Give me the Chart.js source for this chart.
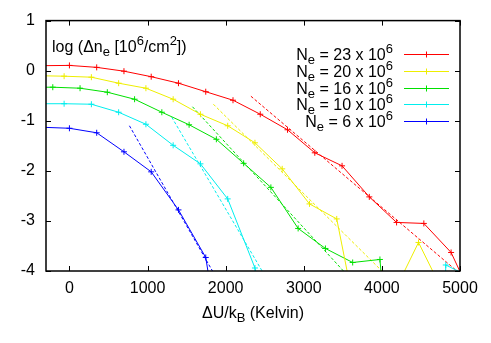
<!DOCTYPE html>
<html><head><meta charset="utf-8">
<script src="https://cdn.jsdelivr.net/npm/chart.js@4/dist/chart.umd.min.js"></script>
<style>html,body{margin:0;padding:0;background:#fff}#wrap{width:491px;height:343px}</style>
</head><body><div id="wrap"><canvas id="c" width="491" height="343"></canvas></div>
<script>
// tick labels
const xTicks = [0, 1000, 2000, 3000, 4000, 5000];
const yTicks = [-4, -3, -2, -1, 0, 1];
// legend values (N_e in units of 10^6)
const neValues = ['23', '20', '16', '10', '6'];
const seriesColors = ['#ff0000', '#eeee00', '#00e000', '#00eeee', '#0000ff'];

// series: N_e = 23
const xNe23 = [-349, 0, 349, 698, 1047, 1396, 1745, 2094, 2443, 2792, 3141, 3490, 3839, 4188, 4537, 4886, 5235];
const yNe23 = [0.10, 0.105, 0.066, -0.01, -0.12, -0.25, -0.42, -0.59, -0.87, -1.18, -1.64, -1.90, -2.52, -3.03, -3.05, -3.63, -4.8];
// N_e = 20
const xNe20 = [-417, -68, 281, 630, 979, 1328, 1677, 2026, 2375, 2724, 3073, 3422, 3771, 4120, 4469, 4818, 5167];
const yNe20 = [-0.10, -0.11, -0.13, -0.25, -0.35, -0.57, -0.87, -1.10, -1.44, -1.96, -2.66, -2.96, -5.7, -4.54, -3.43, -4.53, -5.0];
// N_e = 16
const xNe16 = [-562, -213, 136, 485, 834, 1183, 1532, 1881, 2230, 2579, 2928, 3277, 3626, 3975, 4324];
const yNe16 = [-0.33, -0.33, -0.35, -0.43, -0.57, -0.83, -1.08, -1.37, -1.85, -2.33, -3.15, -3.55, -3.83, -3.77, -10];
// N_e = 10
const xNe10 = [-417, -68, 281, 630, 979, 1328, 1677, 2026, 2375, 2724, 3073, 3422, 3771, 4120, 4469, 4818, 5167];
const yNe10 = [-0.66, -0.66, -0.67, -0.83, -1.07, -1.49, -1.86, -2.56, -3.94, -6, -6, -6, -6, -6, -30, -3.88, -4.15];
// N_e = 6
const xNe6 = [-349, 0, 349, 698, 1047, 1396, 1745, 2094];
const yNe6 = [-1.13, -1.15, -1.24, -1.62, -2.02, -2.78, -3.73, -7.1];

// straight-line fits (dashed), endpoints
const fitX23 = [2323, 4960], fitY23 = [-0.51, -4];
const fitX20 = [1843, 4000], fitY20 = [-0.67, -4];
const fitX16 = [1575, 3508], fitY16 = [-0.72, -4];
const fitX10 = [1310, 2467], fitY10 = [-0.93, -4];
const fitX6  = [768, 1831],  fitY6  = [-1.10, -4];

const seriesX = [xNe23, xNe20, xNe16, xNe10, xNe6];
const seriesY = [yNe23, yNe20, yNe16, yNe10, yNe6];
const fitXs = [fitX23, fitX20, fitX16, fitX10, fitX6];
const fitYs = [fitY23, fitY20, fitY16, fitY10, fitY6];

const pts = (xs, ys) => xs.map((x, i) => ({x, y: ys[i]}));

const datasets = [];
seriesX.forEach((xs, i) => {
  datasets.push({
    data: pts(xs, seriesY[i]), showLine: true, borderColor: seriesColors[i],
    backgroundColor: seriesColors[i], borderWidth: 1, pointStyle: 'cross',
    pointRadius: 3, pointBorderWidth: 1, pointHoverRadius: 3, tension: 0
  });
});
fitXs.forEach((xs, i) => {
  datasets.push({
    data: pts(xs, fitYs[i]), showLine: true, borderColor: seriesColors[i],
    borderWidth: 1, borderDash: [3, 2], pointRadius: 0, tension: 0
  });
});

const FONT = '"Liberation Sans", Arial, Helvetica, sans-serif';
function drawRich(ctx, parts, x, y, align) {
  let w = 0;
  parts.forEach(p => { ctx.font = p.f + 'px ' + FONT; w += ctx.measureText(p.t).width; });
  let cx = align === 'right' ? x - w : align === 'center' ? x - w / 2 : x;
  ctx.textAlign = 'left'; ctx.textBaseline = 'alphabetic';
  parts.forEach(p => {
    ctx.font = p.f + 'px ' + FONT;
    ctx.fillText(p.t, cx, y + (p.dy || 0));
    cx += ctx.measureText(p.t).width;
  });
}

const decor = {
  id: 'decor',
  afterDraw(chart) {
    const ctx = chart.ctx, a = chart.chartArea;
    const xs = chart.scales.x, ys = chart.scales.y;
    ctx.save();
    ctx.strokeStyle = '#000'; ctx.lineWidth = 1;
    // inward ticks on all four sides
    ctx.beginPath();
    xTicks.forEach(v => {
      const px = Math.round(xs.getPixelForValue(v)) + 0.5;
      ctx.moveTo(px, a.bottom); ctx.lineTo(px, a.bottom - 5);
      ctx.moveTo(px, a.top); ctx.lineTo(px, a.top + 5);
    });
    yTicks.forEach(v => {
      const py = Math.round(ys.getPixelForValue(v)) + 0.5;
      ctx.moveTo(a.left, py); ctx.lineTo(a.left + 5, py);
      ctx.moveTo(a.right, py); ctx.lineTo(a.right - 5, py);
    });
    ctx.stroke();
    // frame
    ctx.lineWidth = 1.5;
    ctx.strokeRect(a.left, a.top, a.right - a.left, a.bottom - a.top);
    ctx.fillStyle = '#000';
    // inner y label
    drawRich(ctx, [
      {t: 'log (\u0394n', f: 16}, {t: 'e', f: 13, dy: 4}, {t: ' [10', f: 16},
      {t: '6', f: 13, dy: -7}, {t: '/cm', f: 16}, {t: '2', f: 13, dy: -7}, {t: '])', f: 16}
    ], 52, 52, 'left');
    // x axis title
    drawRich(ctx, [
      {t: '\u0394U/k', f: 16}, {t: 'B', f: 13, dy: 4}, {t: ' (Kelvin)', f: 16}
    ], (a.left + a.right) / 2, 318, 'center');
    // legend
    neValues.forEach((n, i) => {
      const ly = Math.round(54 + i * 16.8) + 0.5;
      ctx.fillStyle = '#000';
      drawRich(ctx, [
        {t: 'N', f: 16}, {t: 'e', f: 13, dy: 4}, {t: ' = ' + n + ' x 10', f: 16}, {t: '6', f: 13, dy: -7}
      ], 393, ly + 5, 'right');
      ctx.strokeStyle = seriesColors[i]; ctx.lineWidth = 1;
      ctx.beginPath();
      ctx.moveTo(404, ly); ctx.lineTo(449, ly);
      ctx.moveTo(426.5, ly - 3); ctx.lineTo(426.5, ly + 3);
      ctx.stroke();
    });
    ctx.restore();
  }
};

new Chart(document.getElementById('c'), {
  type: 'scatter',
  data: {datasets},
  options: {
    responsive: false, animation: false, devicePixelRatio: 1,
    layout: {padding: {left: 0, top: 20, right: 31, bottom: 0}},
    plugins: {legend: {display: false}, tooltip: {enabled: false}},
    scales: {
      x: {
        type: 'linear', min: -300, max: 5000,
        afterBuildTicks: s => { s.ticks = xTicks.map(v => ({value: v})); },
        afterFit: s => { s.height = 72; },
        grid: {display: false, drawTicks: false}, border: {display: false},
        ticks: {color: '#000', font: {family: FONT, size: 16}, padding: 8, maxRotation: 0, autoSkip: false,
                callback: v => String(v)}
      },
      y: {
        type: 'linear', min: -4, max: 1,
        afterBuildTicks: s => { s.ticks = yTicks.map(v => ({value: v})); },
        afterFit: s => { s.width = 46; },
        grid: {display: false, drawTicks: false}, border: {display: false},
        ticks: {color: '#000', font: {family: FONT, size: 16}, padding: 11, autoSkip: false,
                callback: v => String(v)}
      }
    }
  },
  plugins: [decor]
});
</script></body></html>
